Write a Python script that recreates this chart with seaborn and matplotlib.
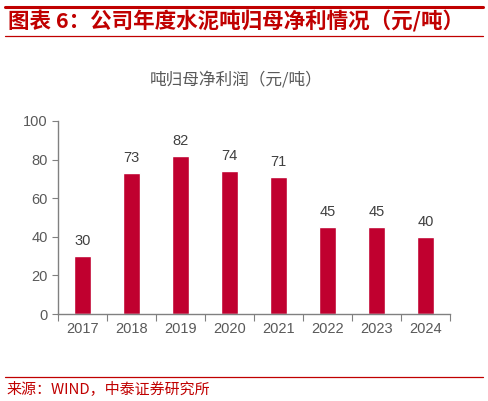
import matplotlib
matplotlib.use("Agg")
import matplotlib.pyplot as plt
from matplotlib.lines import Line2D
import seaborn as sns
import pandas as pd

years = ["2017", "2018", "2019", "2020", "2021", "2022", "2023", "2024"]
profit = [30, 73, 82, 74, 71, 45, 45, 40]
yticks = [0, 20, 40, 60, 80, 100]

sns.set_style("white")
plt.rcParams['font.family'] = ['Noto Sans CJK SC', 'DejaVu Sans']

red = "#C00000"
bar_red = "#C0002F"
grey = "#595959"

df = pd.DataFrame({"year": years, "profit": profit})

fig = plt.figure(figsize=(4.88, 4.01), dpi=100)
ax = fig.add_axes([58/488, 1 - 314/401, 392/488, 193/401])
sns.barplot(data=df, x="year", y="profit", color=bar_red, width=0.34, saturation=1, ax=ax)

for i, v in enumerate(profit):
    ax.text(i, v + 4, str(v), ha="center", va="bottom", fontsize=10.5, color="#404040", family=["Liberation Sans", "DejaVu Sans"])

ax.set_ylim(0, 100)
ax.set_yticks(yticks)
ax.set_xlim(-0.5, len(years) - 0.5)
ax.set_xlabel("")
ax.set_ylabel("")
sns.despine(ax=ax, top=True, right=True)
for s in ["left", "bottom"]:
    ax.spines[s].set_color("#808080")
    ax.spines[s].set_linewidth(1)
ax.set_xticks([i - 0.5 for i in range(len(years) + 1)], minor=False)
ax.set_xticklabels([])
ax.set_xticks(range(len(years)), minor=True)
ax.set_xticklabels(years, minor=True)
ax.tick_params(axis="x", which="major", length=5, color="#808080", direction="out", bottom=True)
ax.tick_params(axis="x", which="minor", length=0, labelsize=10.5, labelcolor=grey, pad=6)
ax.tick_params(axis="y", length=4, color="#808080", direction="out", left=True, labelsize=10.5, labelcolor=grey)
for lab in ax.get_xticklabels(minor=True) + ax.get_yticklabels():
    lab.set_family(["Liberation Sans", "DejaVu Sans"])

fig.text(236/488, 1 - 80/401, "吨归母净利润（元/吨）", ha="center", va="center", fontsize=12, color=grey)

fig.add_artist(Line2D([5/488, 483/488], [1 - 7/401, 1 - 7/401], color=red, lw=2.2))
fig.add_artist(Line2D([5/488, 483/488], [1 - 36/401, 1 - 36/401], color=red, lw=0.9))
fig.add_artist(Line2D([5/488, 483/488], [1 - 377/401, 1 - 377/401], color=red, lw=0.9))

fig.text(8/488, 1 - 21/401, "图表 6：公司年度水泥吨归母净利情况（元/吨）", ha="left", va="center",
         fontsize=15.5, color=red, fontweight="bold")
fig.text(6/488, 1 - 389/401, "来源：WIND，中泰证券研究所", ha="left", va="center", fontsize=10.8, color=red)

fig.savefig("out.png", dpi=100)
